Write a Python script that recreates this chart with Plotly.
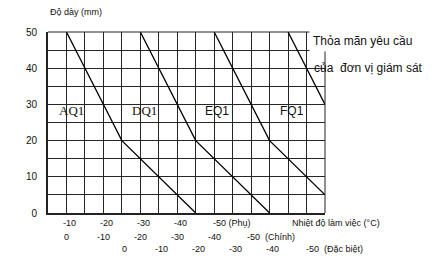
import plotly.graph_objects as go

# ---- data ----
thk_ticks = [0, 10, 20, 30, 40, 50]

aq1_temp = [-10, -25, -45]
aq1_thk = [50, 20, 0]
dq1_temp = [-30, -45, -65]
dq1_thk = [50, 20, 0]
eq1_temp = [-50, -65, -80]
eq1_thk = [50, 20, 5]
fq1_temp = [-70, -80]
fq1_thk = [50, 30]

curve_names = ["AQ1", "DQ1", "EQ1", "FQ1"]
curve_label_x = [-7.5, -27.3, -47.0, -67.4]
curve_label_y = [28.3, 28.3, 28.3, 28.3]
curve_label_font = ["Liberation Serif", "Liberation Serif", "Liberation Sans", "Liberation Sans"]

phu_ticks = [-10, -20, -30, -40, -50]          # Phụ scale (main axis)
chinh_ticks = [0, -10, -20, -30, -40, -50]     # Chính scale = Phụ + 10
dacbiet_ticks = [0, -10, -20, -30, -40, -50]   # Đặc biệt scale = Phụ + 25
chinh_offset = -10
dacbiet_offset = -25

FONT = "Liberation Sans, Arial, sans-serif"
GRID = "#262626"

fig = go.Figure()
for tx, ty in [(aq1_temp, aq1_thk), (dq1_temp, dq1_thk), (eq1_temp, eq1_thk), (fq1_temp, fq1_thk)]:
    fig.add_trace(go.Scatter(x=tx, y=ty, mode="lines",
                             line=dict(color="black", width=1.3),
                             showlegend=False, hoverinfo="skip"))

ann = []
for name, lx, ly, lf in zip(curve_names, curve_label_x, curve_label_y, curve_label_font):
    ann.append(dict(x=lx, y=ly, xref="x", yref="y", text=name, showarrow=False,
                    xanchor="left", yanchor="middle",
                    font=dict(family=lf, size=13 if "Serif" in lf else 12, color="#111")))

def row(ticks, offset, yshift, suffix, xs):
    for i, t in enumerate(ticks):
        last = i == len(ticks) - 1
        txt = str(t) + (suffix if last else "")
        ann.append(dict(x=t + offset, y=0, xref="x", yref="paper", text=txt,
                        showarrow=False, xanchor="left" if last else "center",
                        yanchor="middle", yshift=yshift,
                        xshift=(xs - 6) if last else xs,
                        font=dict(family=FONT, size=9, color="#111")))

row(phu_ticks, 0, -10, " (Phụ)", 3)
row(chinh_ticks, chinh_offset, -24, "  (Chính)", 0)
row(dacbiet_ticks, dacbiet_offset, -36, "  (Đặc biệt)", 3)

ann.append(dict(x=(290 - 48) / 277, y=0, xref="paper", yref="paper",
                text="Nhiệt độ làm việc (°C)", showarrow=False, xanchor="left",
                yanchor="middle", yshift=-10, font=dict(family=FONT, size=9, color="#111")))
ann.append(dict(x=0, y=1, xref="paper", yref="paper", text="Độ dày (mm)",
                showarrow=False, xanchor="left", yanchor="middle", yshift=20,
                font=dict(family=FONT, size=9, color="#111")))
ann.append(dict(x=(309 - 48) / 277, y=1 - (41 - 32) / 181, xref="paper", yref="paper",
                text="Thỏa mãn yêu cầu", showarrow=False, xanchor="left",
                yanchor="middle", bgcolor="white", borderpad=3,
                font=dict(family=FONT, size=12, color="#111")))
ann.append(dict(x=(312 - 48) / 277, y=1 - (68 - 32) / 181, xref="paper", yref="paper",
                text="của  đơn vị giám sát", showarrow=False, xanchor="left",
                yanchor="middle", font=dict(family=FONT, size=12, color="#111")))

fig.update_layout(
    width=437, height=274,
    margin=dict(l=48, r=112, t=32, b=61),
    paper_bgcolor="white", plot_bgcolor="white",
    annotations=ann,
    xaxis=dict(range=[-5, -80], dtick=5, tick0=0, showticklabels=False,
               showgrid=True, gridcolor=GRID, gridwidth=1, zeroline=False,
               showline=True, linecolor="#222", linewidth=2, ticks=""),
    yaxis=dict(range=[0, 50], tickvals=thk_ticks, showgrid=False, zeroline=False,
               showline=True, linecolor="#222", linewidth=2, ticks="",
               ticklabelstandoff=7,
               tickfont=dict(family=FONT, size=10, color="#111")),
    yaxis2=dict(range=[0, 50], dtick=5, tick0=0, overlaying="y", showticklabels=False,
                showgrid=True, gridcolor=GRID, gridwidth=1, zeroline=False),
    shapes=[
        dict(type="line", xref="x domain", yref="y domain", x0=0, x1=1, y0=1, y1=1,
             line=dict(color="#222", width=1)),
        dict(type="line", xref="x domain", yref="y domain", x0=1, x1=1, y0=0, y1=1,
             line=dict(color="#222", width=1)),
    ],
)
fig.add_trace(go.Scatter(x=[None], y=[None], yaxis="y2", showlegend=False, hoverinfo="skip"))

fig.write_html("out.html")
